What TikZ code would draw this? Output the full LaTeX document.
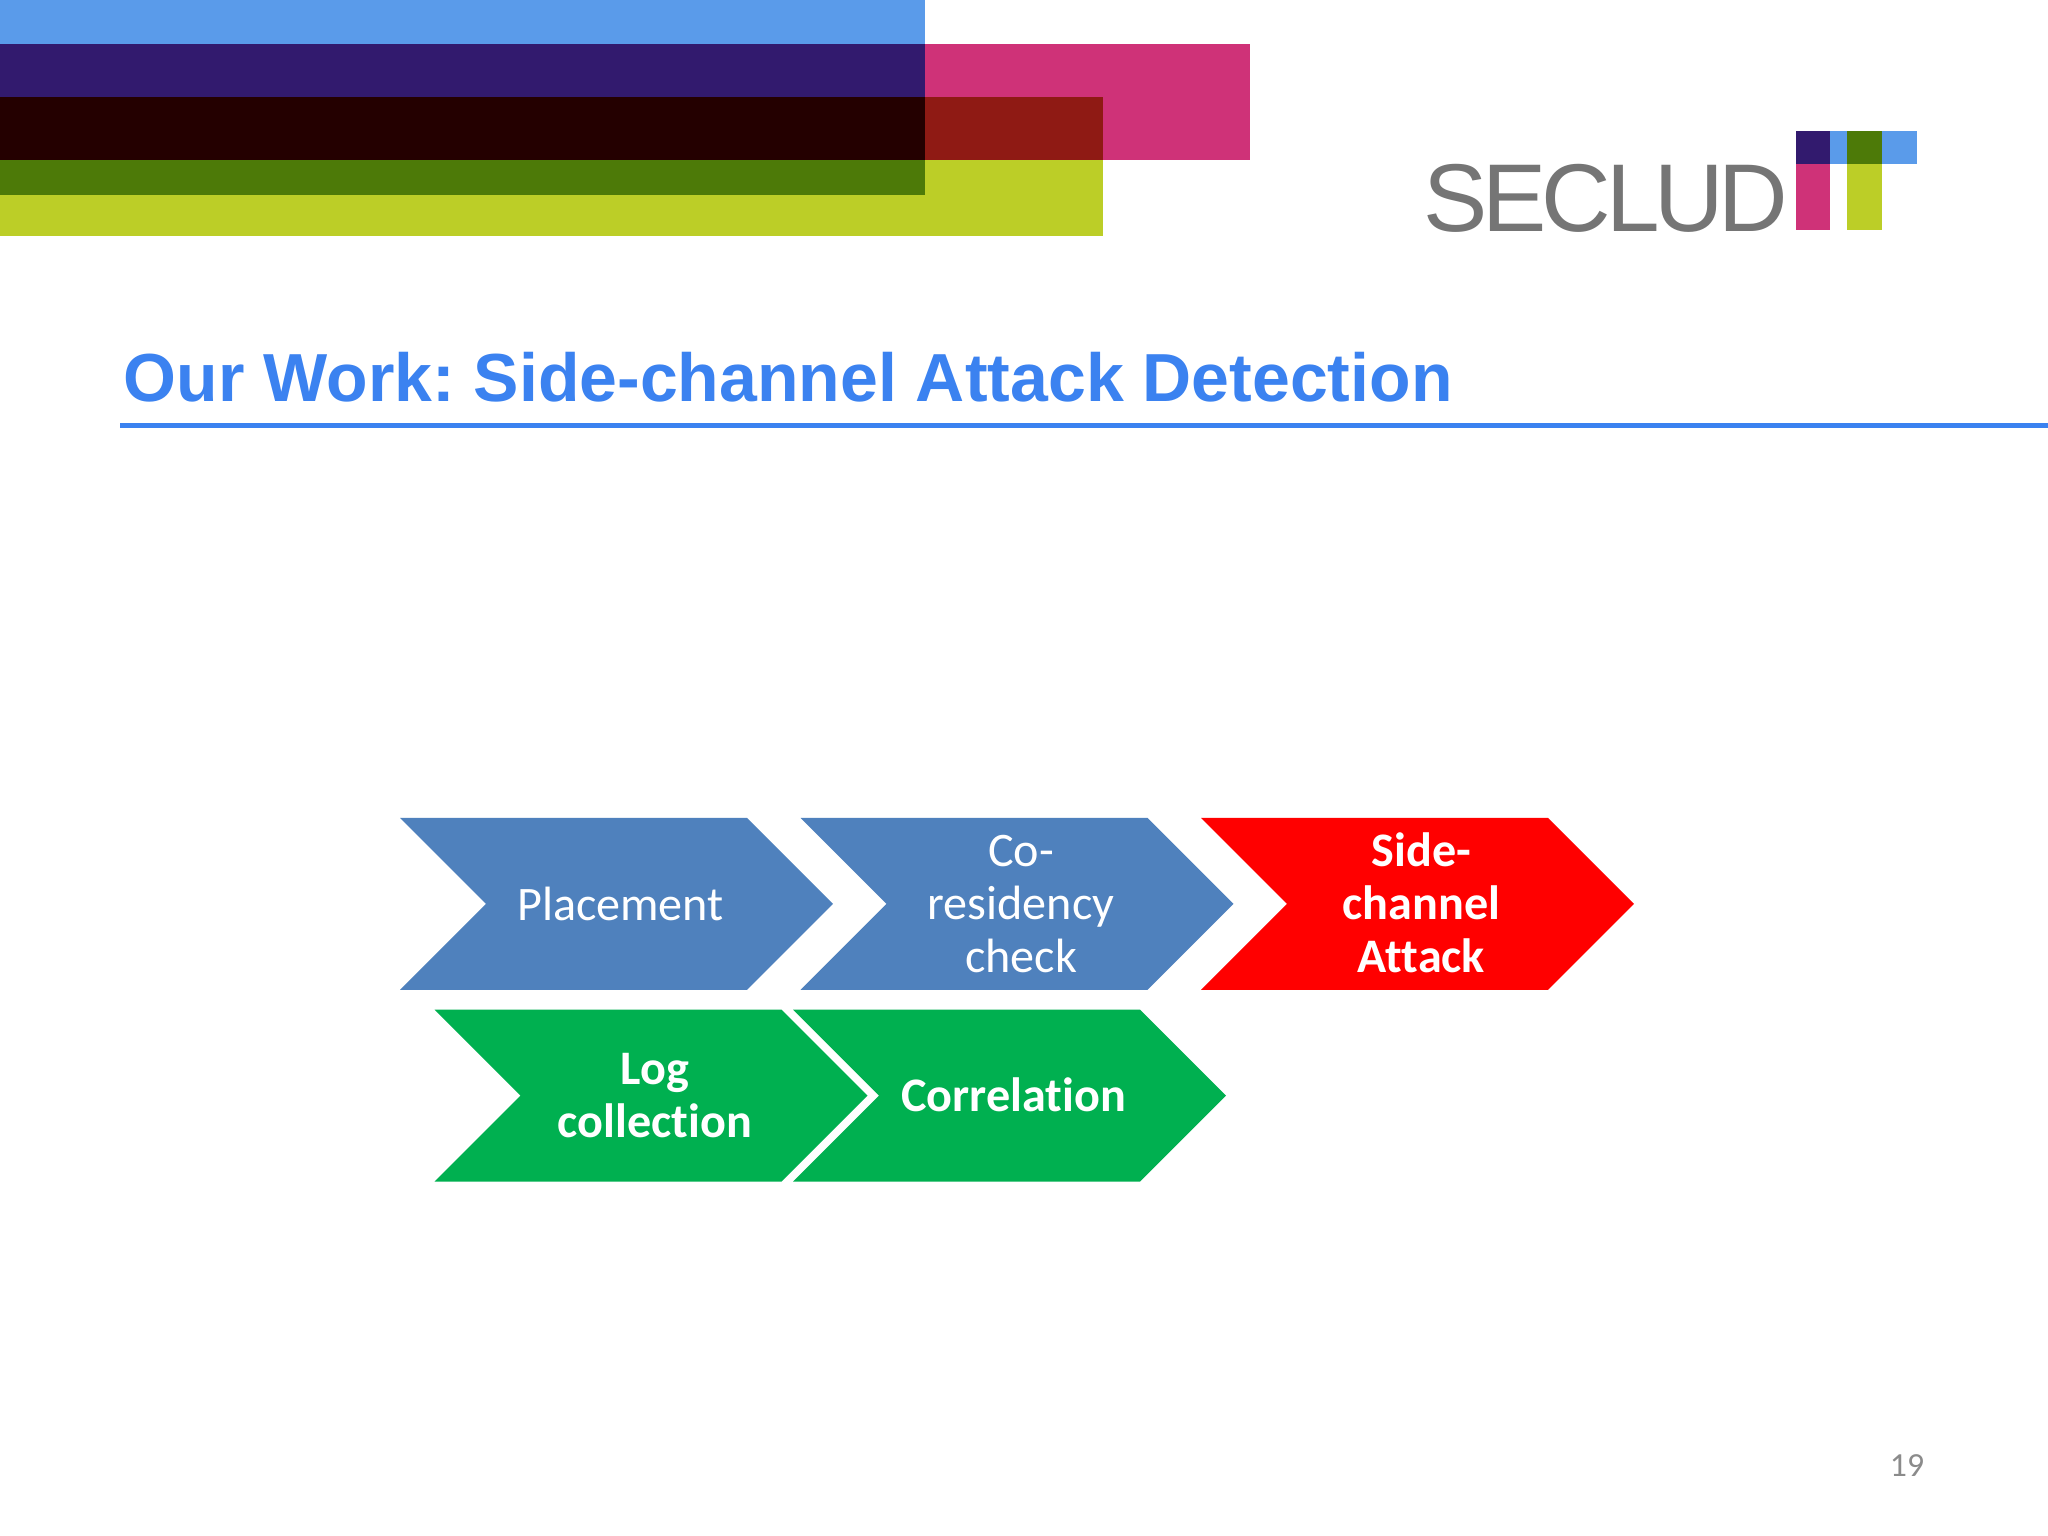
\documentclass[tikz,border=0pt]{standalone}
\usepackage{fontspec}
\setmainfont[Ligatures=CommonOff]{Carlito}
\newfontfamily\titlefont{Liberation Sans}
\newfontfamily\logofont[LetterSpace=-5.4]{Liberation Sans}
\usepackage{tikz}
\usetikzlibrary{shapes.symbols}

\definecolor{barblue}{HTML}{5A9BEA}
\definecolor{barpink}{HTML}{CF3278}
\definecolor{barlime}{HTML}{BCCE27}
\definecolor{barpurple}{HTML}{321A6E}
\definecolor{bardark}{HTML}{240000}
\definecolor{barred}{HTML}{8F1A14}
\definecolor{bargreen}{HTML}{4D7A08}
\definecolor{titleblue}{HTML}{3B82F0}
\definecolor{stepblue}{HTML}{4F81BD}
\definecolor{stepgreen}{HTML}{00B050}
\definecolor{logogray}{HTML}{757575}
\definecolor{pagegray}{HTML}{8B8B8B}

\begin{document}
\begin{tikzpicture}
        \tikzstyle{chevron}=[shape=signal, signal from=west, signal to=east, signal pointer angle=90, minimum width=4.33cm, minimum height=1.72cm, inner sep=0pt];
        \tikzstyle{chevblue}=[chevron, fill=stepblue];
        \tikzstyle{chevred}=[chevron, fill=red];
        \tikzstyle{chevgreen}=[chevron, fill=stepgreen];
        \tikzstyle{steptext}=[inner sep=0pt, text=white, align=center, xshift=0.04cm, font=\fontsize{13.7}{15.1}\selectfont];
        \tikzstyle{boldtext}=[steptext, font=\fontsize{13.7}{15.1}\selectfont\bfseries];
        \useasboundingbox (0,0) rectangle (20.48,15.36);
        \fill [white] (0,0) rectangle (20.48,15.36);

        % header bars
        \fill [barlime] (0,14.39) rectangle (11.03,13);
        \fill [barpink] (0,14.92) rectangle (12.5,13.76);
        \fill [barred] (0,14.39) rectangle (11.03,13.76);
        \fill [barblue] (0,15.36) rectangle (9.25,14.92);
        \fill [barpurple] (0,14.92) rectangle (9.25,14.39);
        \fill [bardark] (0,14.39) rectangle (9.25,13.76);
        \fill [bargreen] (0,13.76) rectangle (9.25,13.41);

        % logo
        \node (logo) [anchor=base west, inner sep=0pt, text=logogray, font=\logofont\fontsize{27.4}{30}\selectfont] at (14.23,13.04) {SECLUD};
        \fill [barblue] (17.96,14.05) rectangle (19.17,13.72);
        \fill [barpurple] (17.96,14.05) rectangle (18.30,13.72);
        \fill [barpink] (17.96,13.72) rectangle (18.30,13.06);
        \fill [bargreen] (18.47,14.05) rectangle (18.82,13.72);
        \fill [barlime] (18.47,13.72) rectangle (18.82,13.06);

        % title
        \node (title) [anchor=base west, inner sep=0pt, text=titleblue, font=\titlefont\bfseries\fontsize{19.35}{22}\selectfont\frenchspacing] at (1.23,11.34) {Our Work: Side-channel Attack Detection};
        \draw [titleblue, line width=5pt*0.2845] (1.2,11.1) -- (20.48,11.1);

        % attack steps
        \node (v1) [chevblue] at (6.165,6.32) {};
        \node (t1) [steptext] at (v1) {Placement};
        \node (v2) [chevblue] at (10.17,6.32) {};
        \node (t2) [steptext] at (v2) {Co-\\residency\\check};
        \node (v3) [chevred] at (14.175,6.32) {};
        \node (t3) [boldtext, yshift=0.015cm] at (v3) {Side-\\channel\\Attack};

        % detection steps
        \node (v4) [chevgreen] at (6.51,4.404) {};
        \node (t4) [boldtext] at (v4) {Log\\collection};
        \node (v5) [chevgreen] at (10.095,4.404) {};
        \node (t5) [boldtext, yshift=0.012cm] at (v5) {Correlation};

        \node (page) [text=pagegray, inner sep=0pt, font=\fontsize{9.6}{11}\selectfont] at (19.07,0.70) {19};
    \end{tikzpicture}
\end{document}
